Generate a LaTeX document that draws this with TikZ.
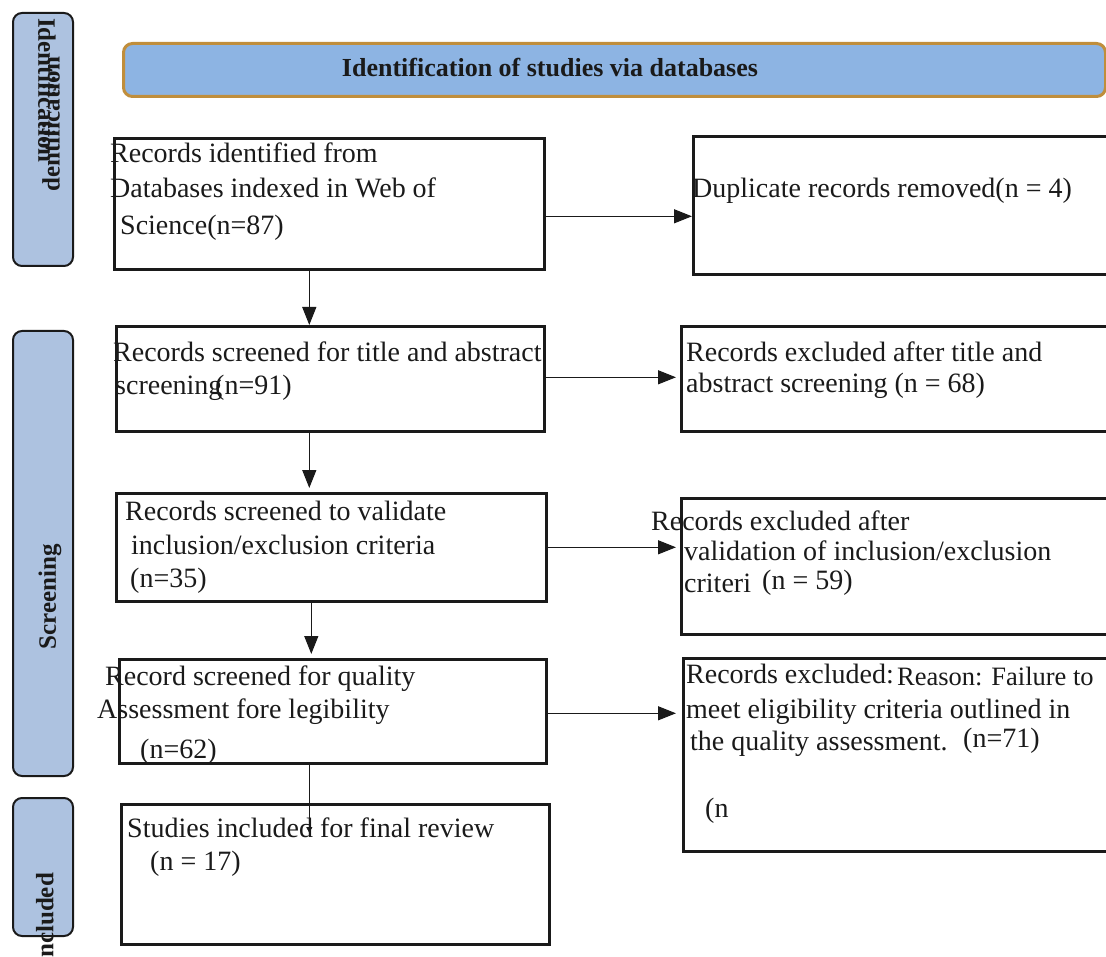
\documentclass[tikz,border=0pt]{standalone}
\usepackage{fontspec}
\setmainfont{Liberation Serif}
\usetikzlibrary{arrows.meta}
\definecolor{barblue}{HTML}{ADC2E0}
\definecolor{hdrblue}{HTML}{8DB4E3}
\definecolor{hdrgold}{HTML}{C08E3C}
\definecolor{ink}{HTML}{1A1A1A}
\tikzset{
  box/.style={draw=ink, line width=2.6pt, rectangle, inner sep=0pt, anchor=north west},
  bar/.style={draw=ink, line width=2pt, fill=barblue, rounded corners=9pt, inner sep=0pt, anchor=north west},
  hdr/.style={draw=hdrgold, line width=3pt, fill=hdrblue, rounded corners=9pt, inner sep=0pt, anchor=north west},
  txt/.style={anchor=base west, inner sep=0pt, text=ink, font=\fontsize{28}{32}\selectfont},
  smalltxt/.style={txt, font=\fontsize{26.5}{30}\selectfont},
  side/.style={inner sep=0pt, text=ink, font=\bfseries\fontsize{25}{28}\selectfont},
  arr/.style={draw=ink, line width=1.2pt, -{Triangle[length=18pt,width=14pt]}},
  thinarr/.style={draw=ink, line width=0.8pt, -{Triangle[length=6pt,width=6pt]}}
}
\begin{document}
\begin{tikzpicture}[x=1pt,y=-1pt]
\useasboundingbox (0,0) rectangle (1106,957);
% side bars
\node[bar, minimum width=60pt, minimum height=253pt] (barI) at (12,12) {};
\node[bar, minimum width=60pt, minimum height=445pt] (barS) at (12,330) {};
\node[bar, minimum width=60pt, minimum height=138pt] (barN) at (12,797) {};
\node[side, rotate=-90, anchor=south west] (labI1) at (38,18) {Identification};
\node[side, rotate=90, anchor=south west] (labI2) at (60,192) {dentification};
\node[side, rotate=90] (labS) at (50,597) {Screening};
\node[side, rotate=90, anchor=south west] (labN) at (54,958) {ncluded};
% header
\node[hdr, minimum width=982pt, minimum height=53pt] (hdr) at (122,42) {};
\node[side, font=\bfseries\fontsize{26}{28}\selectfont] (hdrT) at (550,68) {Identification of studies via databases};
% boxes
\node[box, minimum width=430pt, minimum height=131pt] (A) at (113,137) {};
\node[box, minimum width=440pt, minimum height=138pt] (B) at (692,135) {};
\node[box, minimum width=428pt, minimum height=105pt] (C) at (115,325) {};
\node[box, minimum width=440pt, minimum height=105pt] (D) at (680,325) {};
\node[box, minimum width=430pt, minimum height=108pt] (E) at (115,492) {};
\node[box, minimum width=440pt, minimum height=136pt] (F) at (680,497) {};
\node[box, minimum width=427pt, minimum height=104pt] (G) at (118,658) {};
\node[box, minimum width=440pt, minimum height=193pt] (H) at (682,657) {};
\node[box, minimum width=428pt, minimum height=140pt] (I) at (120,803) {};
% texts
\node[txt] (a1) at (110,163) {Records identified from};
\node[txt] (a2) at (110,198) {Databases indexed in Web of};
\node[txt] (a3) at (120,235) {Science(n=87)};
\node[txt] (b1) at (692,198) {Duplicate records removed(n = 4)};
\node[txt] (c1) at (113,362) {Records screened for title and abstract};
\node[txt] (c2) at (115,395) {screening};
\node[txt] (c3) at (215,395) {(n=91)};
\node[txt] (d1) at (686,362) {Records excluded after title and};
\node[txt] (d2) at (686,393) {abstract screening (n = 68)};
\node[txt] (e1) at (125,520) {Records screened to validate};
\node[txt] (e2) at (131,554) {inclusion/exclusion criteria};
\node[txt] (e3) at (130,587) {(n=35)};
\node[txt] (f1) at (651,530) {Records excluded after};
\node[txt] (f2) at (684,560) {validation of inclusion/exclusion};
\node[txt] (f3) at (684,592) {criteri};
\node[txt] (f4) at (762,589) {(n = 59)};
\node[txt] (g1) at (105,685) {Record screened for quality};
\node[txt] (g2) at (97,718) {Assessment fore legibility};
\node[txt] (g3) at (140,758) {(n=62)};
\node[txt] (h1) at (686,683) {Records excluded:};
\node[smalltxt] (h1b) at (897,685) {Reason: Failure to};
\node[txt] (h2) at (686,718) {meet eligibility criteria outlined in};
\node[txt] (h3) at (690,750) {the quality assessment.};
\node[txt] (h3b) at (963,747) {(n=71)};
\node[txt] (h4) at (705,817) {(n};
\node[txt] (i1) at (127,837) {Studies included for final review};
\node[txt] (i2) at (150,870) {(n = 17)};
% connectors
\draw[arr] ([yshift=-12.5pt]A.east) -- ([yshift=-12.5pt]A.east -| B.west);
\draw[arr, shorten >=4pt] ([yshift=1.5pt]C.east) -- ([yshift=1.5pt]C.east -| D.west);
\draw[arr, shorten >=4pt] (E.east) -- (E.east -| F.west);
\draw[arr, shorten >=6pt] ([yshift=-2pt]G.east) -- ([yshift=-2pt]G.east -| H.west);
\draw[arr] ([xshift=-20pt]A.south) -- ([xshift=-20pt]A.south |- C.north);
\draw[arr, shorten >=4pt] ([xshift=-21pt]C.south) -- ([xshift=-21pt]C.south |- E.north);
\draw[arr, shorten >=4pt] ([xshift=-20pt]E.south) -- ([xshift=-20pt]E.south |- G.north);
\draw[thinarr] ([xshift=-23.5pt]G.south) -- ([xshift=-26pt,yshift=-30pt]I.north);
\end{tikzpicture}
\end{document}
